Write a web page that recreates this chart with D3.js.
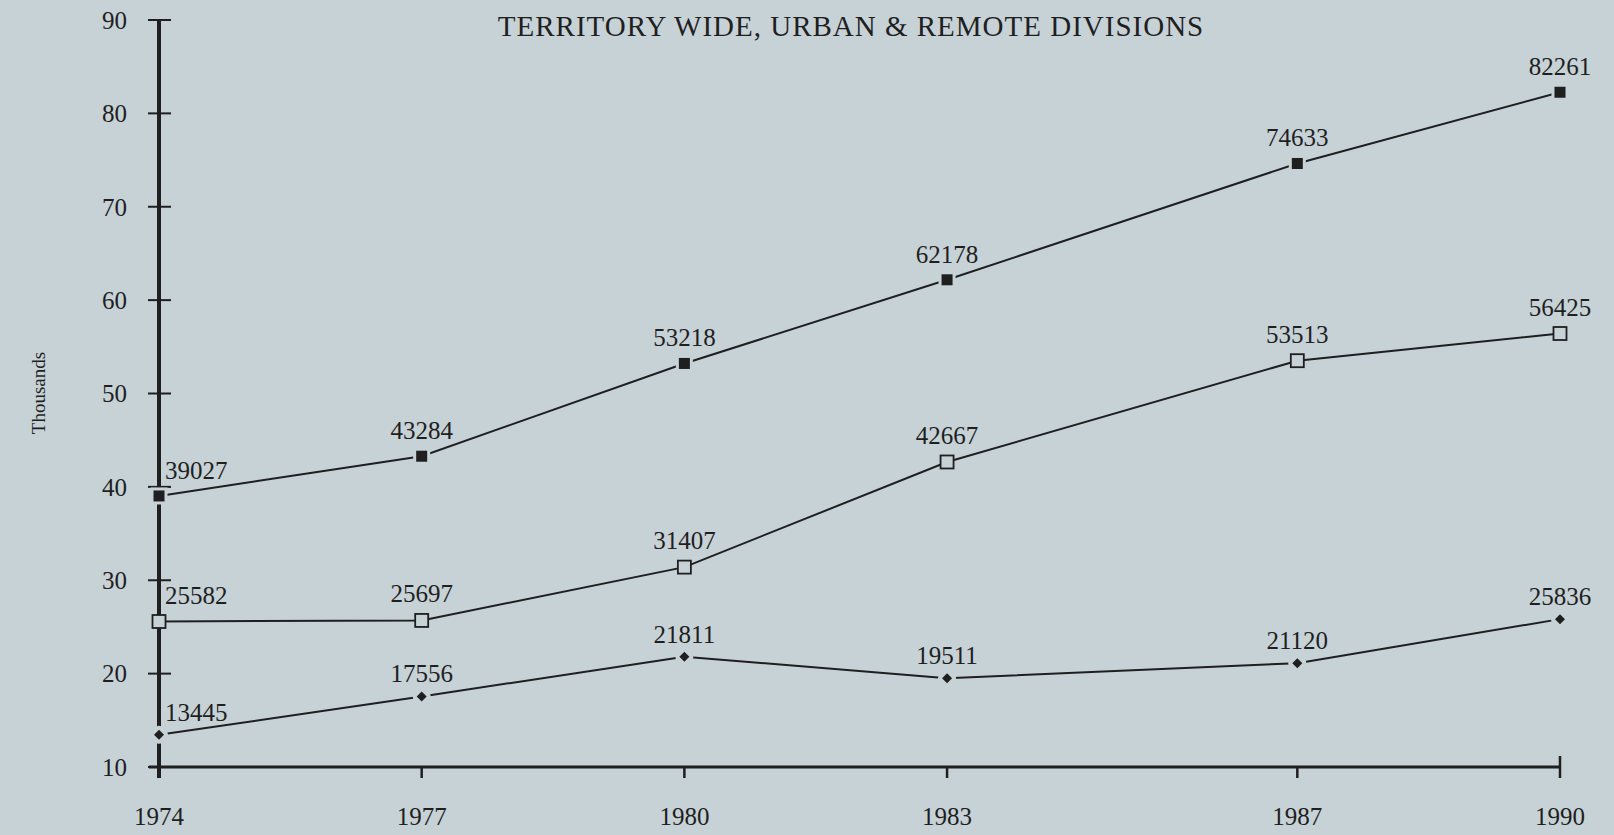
<!DOCTYPE html>
<html>
<head>
<meta charset="utf-8">
<script src="https://cdn.jsdelivr.net/npm/d3@7"></script>
<style>
  html, body { margin: 0; padding: 0; background: #c7d2d7; }
  svg { display: block; font-family: "Liberation Serif", "DejaVu Serif", serif; }
</style>
</head>
<body>
<div class="viz"></div>
<script>
// Data
const years = [1974, 1977, 1980, 1983, 1987, 1990];
const territoryWide = [39027, 43284, 53218, 62178, 74633, 82261];
const urban = [25582, 25697, 31407, 42667, 53513, 56425];
const remote = [13445, 17556, 21811, 19511, 21120, 25836];
const yTicks = [10, 20, 30, 40, 50, 60, 70, 80, 90];

const bg = "#c7d2d7";
const ink = "#1f1f1f";

const totalWidth = 1614;
const totalHeight = 835;

const svg = d3
  .select(".viz")
  .append("svg")
  .attr("width", totalWidth)
  .attr("height", totalHeight);

// Scales
const xScale = d3.scaleLinear().domain([1974, 1990]).range([159, 1560]);
const yScale = d3.scaleLinear().domain([10, 90]).range([767, 20]);

// Title
svg.append("text")
  .attr("x", 851)
  .attr("y", 36)
  .attr("text-anchor", "middle")
  .attr("fill", ink)
  .style("font-size", "29px")
  .style("letter-spacing", "1px")
  .text("TERRITORY WIDE, URBAN & REMOTE DIVISIONS");

// Y axis title
svg.append("text")
  .attr("transform", "translate(45, 393) rotate(-90)")
  .attr("text-anchor", "middle")
  .attr("fill", ink)
  .style("font-size", "19px")
  .text("Thousands");

// Axes lines
const x0 = xScale(1974);
svg.append("line")
  .attr("x1", x0).attr("x2", x0)
  .attr("y1", yScale(90)).attr("y2", yScale(10) + 11)
  .attr("stroke", ink).attr("stroke-width", 4);

svg.append("line")
  .attr("x1", x0 - 10).attr("x2", xScale(1990))
  .attr("y1", yScale(10)).attr("y2", yScale(10))
  .attr("stroke", ink).attr("stroke-width", 3);

// Y ticks + labels
svg.selectAll(".ytick")
  .data(yTicks)
  .enter()
  .append("line")
  .attr("x1", x0 - 11).attr("x2", x0 + 12)
  .attr("y1", (d) => yScale(d)).attr("y2", (d) => yScale(d))
  .attr("stroke", ink).attr("stroke-width", 2);

svg.selectAll(".ylabel")
  .data(yTicks)
  .enter()
  .append("text")
  .attr("x", 127)
  .attr("y", (d) => yScale(d))
  .attr("dy", "0.35em")
  .attr("text-anchor", "end")
  .attr("fill", ink)
  .style("font-size", "25px")
  .text((d) => d);

// X ticks + labels
svg.selectAll(".xtick")
  .data(years.slice(1))
  .enter()
  .append("line")
  .attr("x1", (d) => xScale(d)).attr("x2", (d) => xScale(d))
  .attr("y1", (d) => yScale(10) - (d === 1990 ? 11 : 0))
  .attr("y2", yScale(10) + 11)
  .attr("stroke", ink).attr("stroke-width", 2.5);

svg.selectAll(".xlabel")
  .data(years)
  .enter()
  .append("text")
  .attr("x", (d) => xScale(d))
  .attr("y", 825)
  .attr("text-anchor", "middle")
  .attr("fill", ink)
  .style("font-size", "25px")
  .text((d) => d);

// Series
const series = [
  { name: "Territory wide", values: territoryWide, marker: "filled", labelUp: 17 },
  { name: "Urban", values: urban, marker: "open", labelUp: 18 },
  { name: "Remote", values: remote, marker: "diamond", labelUp: 14 },
];

const line = d3.line()
  .x((d) => xScale(d.year))
  .y((d) => yScale(d.value / 1000));

series.forEach((s) => {
  const pts = years.map((y, i) => ({ year: y, value: s.values[i] }));

  svg.append("path")
    .datum(pts)
    .attr("d", line)
    .attr("fill", "none")
    .attr("stroke", ink)
    .attr("stroke-width", 2);

  const marks = svg.selectAll(null)
    .data(pts)
    .enter()
    .append("g")
    .attr("transform", (d) => `translate(${xScale(d.year)},${yScale(d.value / 1000)})`);

  if (s.marker === "filled") {
    // background patch gives the small gap where the line meets the marker
    marks.append("rect")
      .attr("x", -8.5).attr("y", -8.5).attr("width", 17).attr("height", 17)
      .attr("fill", bg);
    marks.append("rect")
      .attr("x", -5.5).attr("y", -5.5).attr("width", 11).attr("height", 11)
      .attr("fill", ink);
  } else if (s.marker === "open") {
    marks.append("rect")
      .attr("x", -6.5).attr("y", -6.5).attr("width", 13).attr("height", 13)
      .attr("fill", bg).attr("stroke", ink).attr("stroke-width", 1.8);
  } else {
    marks.append("circle").attr("r", 9).attr("fill", bg);
    marks.append("path")
      .attr("d", "M0,-5L5,0L0,5L-5,0Z")
      .attr("fill", ink);
  }

  svg.selectAll(null)
    .data(pts)
    .enter()
    .append("text")
    .attr("x", (d) => (d.year === 1974 ? xScale(d.year) + 6 : xScale(d.year)))
    .attr("y", (d) => yScale(d.value / 1000) - s.labelUp)
    .attr("text-anchor", (d) => (d.year === 1974 ? "start" : "middle"))
    .attr("fill", ink)
    .style("font-size", "25px")
    .text((d) => d.value);
});
</script>
</body>
</html>
